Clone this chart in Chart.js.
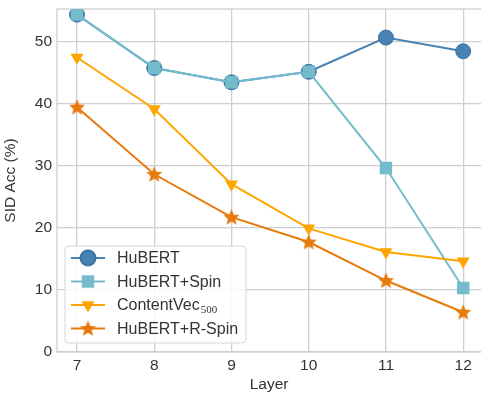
<!doctype html>
<html>
<head>
	<title>SID Acc by Layer</title>
	<script src="https://cdn.jsdelivr.net/npm/chart.js@4.4.0/dist/chart.umd.min.js"></script>
	<style>
		html, body { margin: 0; padding: 0; background: #fff; overflow: hidden; }
		/* plot runs to the right edge of the picture, as in the original figure */
		#wrap { width: 490px; height: 394px; }
	</style>
</head>
<body>
	<div id="wrap"><canvas id="canvas"></canvas></div>
	<script>
		var layers = [7, 8, 9, 10, 11, 12];
		var hubert = [54.3, 45.7, 43.4, 45.1, 50.6, 48.4];
		var hubertSpin = [54.3, 45.7, 43.4, 45.1, 29.6, 10.3];
		var contentVec = [47.4, 39.1, 27.0, 19.9, 16.1, 14.6];
		var hubertRSpin = [39.4, 28.6, 21.7, 17.7, 11.5, 6.4];
		var yTicks = [0, 10, 20, 30, 40, 50];

		var gridColor = '#cfcfcf';
		var textColor = '#333333';
		var fontFamily = '"Liberation Sans", Arial, Helvetica, sans-serif';

		function starImage(r, color) {
			var c = document.createElement('canvas');
			var s = Math.ceil(r * 2 + 2);
			c.width = s; c.height = s;
			var g = c.getContext('2d');
			var cx = s / 2, cy = s / 2 + 0.5, inner = r * 0.45;
			g.beginPath();
			for (var i = 0; i < 10; i++) {
				var rr = i % 2 == 0 ? r : inner;
				var a = -Math.PI / 2 + i * Math.PI / 5;
				var px = cx + rr * Math.cos(a), py = cy + rr * Math.sin(a);
				if (i == 0) g.moveTo(px, py); else g.lineTo(px, py);
			}
			g.closePath();
			g.fillStyle = color;
			g.fill();
			return c;
		}

		function pts(vals) {
			return vals.map(function (v, i) { return { x: layers[i], y: v }; });
		}

		var star = starImage(8.5, '#e8790c');

		// label: main text + optional subscript (drawn by the legend plugin)
		var datasets = [
			{ label: 'HuBERT', data: pts(hubert), borderColor: '#4682b4', backgroundColor: '#4682b4',
			  pointStyle: 'circle', pointRadius: 7.5, pointBorderColor: '#3d74a3', pointBorderWidth: 1, order: 3 },
			{ label: 'HuBERT+Spin', data: pts(hubertSpin), borderColor: '#74bccc', backgroundColor: '#74bccc',
			  pointStyle: 'rect', pointRadius: 8.8, pointBorderWidth: 0, order: 2 },
			{ label: 'ContentVec', sub: '500', data: pts(contentVec), borderColor: '#ffa500', backgroundColor: '#ffa500',
			  pointStyle: 'triangle', pointRotation: 180, pointRadius: 7.5, pointBorderWidth: 0, order: 1 },
			{ label: 'HuBERT+R-Spin', data: pts(hubertRSpin), borderColor: '#e8790c', backgroundColor: '#e8790c',
			  pointStyle: star, pointRadius: 8.5, pointBorderWidth: 0, order: 0 }
		];
		datasets.forEach(function (d) {
			d.borderWidth = 2;
			d.fill = false;
			d.tension = 0;
			d.pointHoverRadius = d.pointRadius;
		});

		var framePlugin = {
			id: 'frame',
			beforeDatasetsDraw: function (chart) {
				var a = chart.chartArea, ctx = chart.ctx;
				ctx.save();
				ctx.strokeStyle = gridColor;
				ctx.lineWidth = 1.3;
				ctx.strokeRect(a.left, a.top, a.right - a.left + 5, a.bottom - a.top);
				ctx.restore();
			}
		};

		var legendPlugin = {
			id: 'boxLegend',
			afterDraw: function (chart) {
				var ctx = chart.ctx;
				var x0 = 65, y0 = 246, w = 181, h = 97, r = 4;
				ctx.save();
				ctx.beginPath();
				ctx.roundRect(x0, y0, w, h, r);
				ctx.fillStyle = 'rgba(255,255,255,0.85)';
				ctx.fill();
				ctx.strokeStyle = '#d6d6d6';
				ctx.lineWidth = 1;
				ctx.stroke();
				ctx.textBaseline = 'middle';
				chart.data.datasets.forEach(function (d, i) {
					var y = y0 + 12 + i * 23.5;
					ctx.beginPath();
					ctx.strokeStyle = d.borderColor;
					ctx.lineWidth = 2;
					ctx.moveTo(x0 + 6, y);
					ctx.lineTo(x0 + 40, y);
					ctx.stroke();
					ctx.fillStyle = d.backgroundColor;
					ctx.strokeStyle = d.pointBorderColor || d.backgroundColor;
					Chart.helpers.drawPoint(ctx, {
						pointStyle: d.pointStyle, rotation: d.pointRotation || 0,
						radius: d.pointRadius, borderWidth: d.pointBorderWidth
					}, x0 + 23, y);
					ctx.fillStyle = textColor;
					ctx.font = '16px ' + fontFamily;
					ctx.fillText(d.label, x0 + 52, y + 1);
					if (d.sub) {
						var tw = ctx.measureText(d.label).width;
						ctx.font = '11px "Liberation Serif", "DejaVu Serif", serif';
						ctx.fillText(d.sub, x0 + 53 + tw, y + 5);
					}
				});
				ctx.restore();
			}
		};

		var tickFont = { family: fontFamily, size: 15.5 };

		new Chart(document.getElementById('canvas'), {
			type: 'line',
			data: { datasets: datasets },
			plugins: [framePlugin, legendPlugin],
			options: {
				responsive: true,
				maintainAspectRatio: false,
				animation: false,
				layout: { padding: { top: 9, right: 0, left: 0, bottom: 0 } },
				plugins: { legend: { display: false }, tooltip: { enabled: false } },
				scales: {
					x: {
						type: 'linear',
						min: 6.741, max: 12.233,
						afterFit: function (s) { s.height = 42; },
						afterBuildTicks: function (s) { s.ticks = layers.map(function (v) { return { value: v }; }); },
						grid: { color: gridColor, lineWidth: 1.3, drawTicks: false },
						border: { display: false },
						ticks: { color: textColor, font: tickFont, padding: 4 },
						title: { display: true, text: 'Layer', color: textColor, font: tickFont, padding: { top: 0, bottom: 0 } }
					},
					y: {
						min: 0, max: 55.2,
						afterFit: function (s) { s.width = 57; s.paddingTop = 0; s.paddingBottom = 0; },
						afterBuildTicks: function (s) { s.ticks = yTicks.map(function (v) { return { value: v }; }); },
						grid: { color: gridColor, lineWidth: 1.3, drawTicks: false },
						border: { display: false },
						ticks: { color: textColor, font: tickFont, padding: 5 },
						title: { display: true, text: 'SID Acc (%)', color: textColor, font: tickFont, padding: { top: 1, bottom: 0 } }
					}
				}
			}
		});
	</script>
</body>
</html>
